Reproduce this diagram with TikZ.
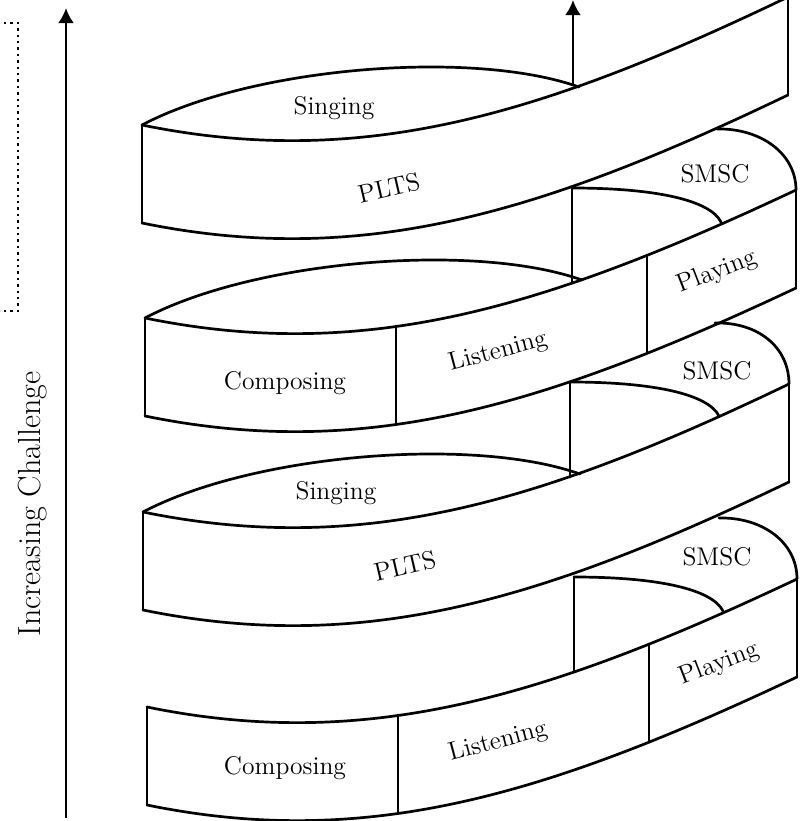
\documentclass[tikz,border=0pt]{standalone}
\usepackage{tikz}
\usetikzlibrary{arrows.meta,positioning}

\begin{document}
\begin{tikzpicture}[x=0.5pt,y=-0.5pt]
\tikzset{
    band/.style={
       line width=1.35pt,
       line cap=round,
       line join=round
    },
    lbl/.style={
       font=\fontsize{12.8}{15}\selectfont,
       inner sep=0pt
    },
    axis/.style={
       line width=1.35pt,
       -{Latex[length=7.5pt,width=8pt]}
    }
}
%
\useasboundingbox (0,0) rectangle (805,821);

% front faces of the ribbon
\foreach \bx/\by/\bw in {142/125/646, 145/318/651, 143/512/646, 147/707/650}{
\begin{scope}[shift={(\bx,\by)}]
\draw[band] (0,0) .. controls (220,45) and (400,-10) .. (\bw,-128);
\draw[band] (0,98) .. controls (220,143) and (400,88) .. (\bw,-30);
\draw[band] (0,0) -- (0,98);
\draw[band] (\bw,-128) -- (\bw,-30);
\end{scope}
}

% top faces on the left
\foreach \bx/\by in {142/125, 145/318, 143/512}{
\begin{scope}[shift={(\bx,\by)}]
\draw[band] (0,0) .. controls (110,-58) and (330,-76) .. (437,-38);
\end{scope}
}

% top faces on the right
\foreach \bx/\by/\bw in {145/318/651, 143/512/646, 147/707/650}{
\begin{scope}[shift={(\bx,\by)}]
\draw[band] (572,-189) .. controls (615,-190) and (\bw,-165) .. (\bw,-128);
\draw[band] (427,-130) .. controls (510,-130) and (565,-118) .. (576,-96);
\draw[band] (427,-130) -- (427,-35);
\end{scope}
}

% dividers
\foreach \bx/\by in {145/318, 147/707}{
\begin{scope}[shift={(\bx,\by)}]
\draw[band] (251,8) -- (251,106);
\draw[band] (502,-63) -- (502,35);
\end{scope}
}

\node[lbl] (singing1) at (334,108) {Singing};
\node[lbl, rotate=13] (plts1) at (389,188) {PLTS};
\node[lbl] (smsc1) at (715,174) {SMSC};
\node[lbl, rotate=21] (playing1) at (717,272) {Playing};
\node[lbl] (composing1) at (285,383) {Composing};
\node[lbl, rotate=15] (listening1) at (498,352) {Listening};
\node[lbl] (smsc2) at (717,371) {SMSC};
\node[lbl] (singing2) at (336,493) {Singing};
\node[lbl, rotate=13] (plts2) at (405,566) {PLTS};
\node[lbl] (smsc3) at (717,557) {SMSC};
\node[lbl, rotate=21] (playing2) at (719,664) {Playing};
\node[lbl] (composing2) at (285,768) {Composing};
\node[lbl, rotate=15] (listening2) at (498,742) {Listening};

% axes
\coordinate (axis foot) at (66,818);
\coordinate (axis head) at (66,8);
\draw[axis] (axis foot) -- (axis head);
\node[lbl, font=\fontsize{16}{19}\selectfont, rotate=90] (challenge) at (33,504) {Increasing Challenge};

\coordinate (spiral foot) at (573,84);
\coordinate (spiral head) at (573,0);
\draw[axis] (spiral foot) -- (spiral head);

\draw[dotted, line width=1.2pt] (4,23) -- (18,23) -- (18,311) -- (0,311);
\end{tikzpicture}
\end{document}
